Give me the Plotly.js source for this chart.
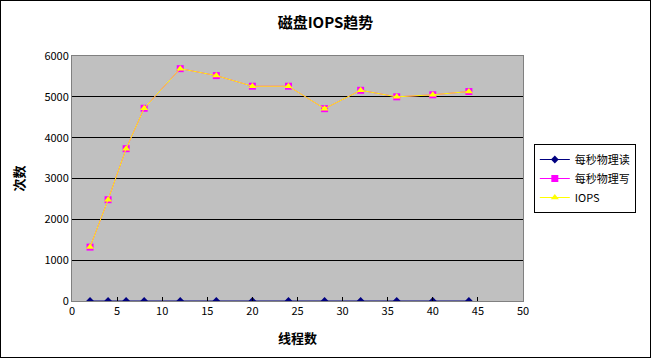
<!DOCTYPE html>
<html>
<head>
<meta charset="utf-8">
<script src="https://cdn.plot.ly/plotly-3.0.1.min.js"></script>
<style>
html,body{margin:0;padding:0;background:#fff;}
#chart{width:651px;height:358px;box-sizing:border-box;border:1px solid #000;}
</style>
</head>
<body>
<div id="chart"></div>
<script>
const threads = [2, 4, 6, 8, 12, 16, 20, 24, 28, 32, 36, 40, 44];
const physReads = [0, 0, 0, 0, 0, 0, 0, 0, 0, 0, 0, 0, 0];
const physWrites = [1320, 2480, 3730, 4720, 5690, 5520, 5260, 5260, 4710, 5160, 5000, 5050, 5130];
const iops = [1320, 2480, 3730, 4720, 5690, 5520, 5260, 5260, 4710, 5160, 5000, 5050, 5130];
const seriesNames = ['每秒物理读', '每秒物理写', 'IOPS'];

const font = '"Noto Sans CJK SC", "DejaVu Sans", sans-serif';

const traces = [
  {x: threads, y: physReads, name: seriesNames[0], mode: 'lines+markers',
   line: {color: '#000080', width: 1}, marker: {symbol: 'diamond', size: 6, color: '#000080'}},
  {x: threads, y: physWrites, name: seriesNames[1], mode: 'lines+markers',
   line: {color: '#FF00FF', width: 1}, marker: {symbol: 'square', size: 7, color: '#FF00FF'}},
  {x: threads, y: iops, name: seriesNames[2], mode: 'lines+markers',
   line: {color: '#FFFF00', width: 1}, marker: {symbol: 'triangle-up', size: 7, color: '#FFFF00'}}
];

const layout = {
  width: 649, height: 356,
  paper_bgcolor: '#FFFFFF', plot_bgcolor: '#C0C0C0',
  margin: {l: 71, r: 127, t: 55, b: 56, autoexpand: false},
  font: {family: font, size: 11, color: '#000'},
  title: {text: '<b>磁盘IOPS趋势</b>', font: {family: font, size: 15, color: '#000'}, x: 0.5, xanchor: 'center', y: 0.94, yanchor: 'middle'},
  showlegend: true,
  legend: {x: 1.024, y: 0.5, xanchor: 'left', yanchor: 'middle',
           bgcolor: '#FFFFFF', bordercolor: '#000', borderwidth: 1,
           font: {family: font, size: 11, color: '#000'}, tracegroupgap: 0,
           itemwidth: 30},
  xaxis: {range: [0, 50], dtick: 5, tick0: 0, showgrid: false, zeroline: false,
          showline: true, linecolor: '#808080', linewidth: 1, mirror: true,
          ticks: 'inside', ticklen: 4, tickcolor: '#000',
          title: {text: '<b>线程数</b>', font: {family: font, size: 13}, standoff: 16}},
  yaxis: {range: [0, 6000], dtick: 1000, tick0: 0, showgrid: true, gridcolor: '#000', gridwidth: 1,
          zeroline: false, showline: true, linecolor: '#808080', linewidth: 1, mirror: true,
          ticks: '', ticklen: 4,
          title: {text: '<b>次数</b>', font: {family: font, size: 13}, standoff: 16}}
};

Plotly.newPlot('chart', traces, layout, {displayModeBar: false, staticPlot: true});
</script>
</body>
</html>
